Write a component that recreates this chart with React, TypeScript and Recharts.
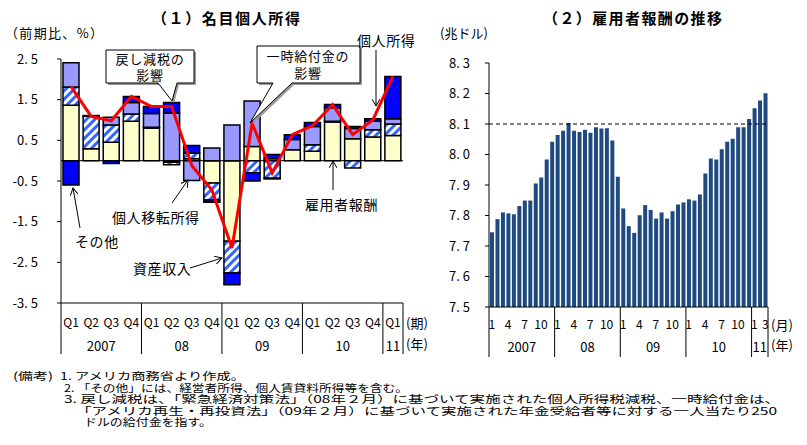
import React from "react";
import { ComposedChart, BarChart, Bar, Line, XAxis, YAxis, ReferenceLine } from "recharts";

const JP = '"Noto Sans CJK JP", "DejaVu Sans", sans-serif';

// (1) 名目個人所得 (前期比、%)
const qLabels = ["Q1", "Q2", "Q3", "Q4", "Q1", "Q2", "Q3", "Q4", "Q1", "Q2", "Q3", "Q4", "Q1", "Q2", "Q3", "Q4", "Q1"];
const qYears = ["2007", "2007", "2007", "2007", "08", "08", "08", "08", "09", "09", "09", "09", "10", "10", "10", "10", "11"];
const compensation = [1.36, 0.29, 0.45, 0.97, 0.8, -0.04, 0.05, -0.55, -1.98, 0.35, 0.05, 0.27, 0.23, 0.95, 0.54, 0.58, 0.62];
const assetIncome = [0.45, 0.8, 0.43, 0.18, 0.02, -0.06, 0.14, -0.42, -0.78, -0.3, -0.43, 0.0, 0.16, 0.02, -0.18, 0.18, 0.28];
const transferIncome = [0.6, 0.02, 0.19, 0.28, 0.34, 1.17, -0.49, 0.31, 0.88, 1.12, -0.02, 0.25, 0.45, 0.33, 0.25, 0.21, 0.13];
const otherIncome = [-0.6, 0.0, -0.07, 0.15, 0.17, 0.26, 0.18, -0.05, -0.29, -0.2, 0.1, 0.12, 0.1, 0.08, 0.05, 0.06, 1.04];
const personalIncome = [1.82, 1.09, 0.98, 1.58, 1.33, 1.33, -0.12, -0.72, -2.15, 0.92, -0.3, 0.64, 0.86, 1.38, 0.64, 1.0, 2.07];
const leftTicks = [-3.5, -2.5, -1.5, -0.5, 0.5, 1.5, 2.5];

// (2) 雇用者報酬の推移 (兆ドル, 月次)
const mYears = ["2007", "08", "09", "10", "11"];
const comp07 = [7.745, 7.788, 7.81, 7.807, 7.804, 7.831, 7.849, 7.849, 7.905, 7.925, 7.984, 8.042];
const comp08 = [8.064, 8.078, 8.103, 8.078, 8.074, 8.081, 8.071, 8.089, 8.085, 8.086, 8.046, 7.927];
const comp09 = [7.823, 7.765, 7.743, 7.801, 7.834, 7.818, 7.79, 7.81, 7.79, 7.814, 7.836, 7.843];
const comp10 = [7.853, 7.849, 7.869, 7.938, 7.987, 7.984, 8.017, 8.042, 8.052, 8.089, 8.089, 8.116];
const comp11 = [8.152, 8.177, 8.201];
const rightTicks = [7.5, 7.6, 7.7, 7.8, 7.9, 8.0, 8.1, 8.2, 8.3];
const shownMonths = [1, 4, 7, 10];

const quarterData = qLabels.map((q, i) => ({
  key: qYears[i] + q,
  comp: compensation[i],
  asset: assetIncome[i],
  transfer: transferIncome[i],
  other: otherIncome[i],
  income: personalIncome[i],
}));

const monthData = [comp07, comp08, comp09, comp10, comp11].flatMap((vals, yi) =>
  vals.map((v, mi) => ({ key: `${mYears[yi]}-${mi + 1}`, year: mYears[yi], month: mi + 1, value: v }))
);

const LEFT_PLOT_W = 342;
const RIGHT_PLOT_W = 279;

const fmt = (v: number) => v.toFixed(1).replace(".", ". ");

function QuarterTick(props: any) {
  const { x, y, index } = props;
  const slot = LEFT_PLOT_W / qLabels.length;
  const year = qYears[index];
  const first = index === 0 || qYears[index - 1] !== year;
  const last = index === qLabels.length - 1;
  const n = qYears.filter((v) => v === year).length;
  return (
    <g fontFamily={JP} fill="#000">
      <text x={x} y={y + 24} textAnchor="middle" fontSize={12}>{qLabels[index]}</text>
      {first && (
        <>
          <line x1={x - slot / 2} x2={x - slot / 2} y1={y} y2={y + 51} stroke="#000" />
          <text x={x - slot / 2 + (n * slot) / 2} y={y + 48} textAnchor="middle" fontSize={13}>{year}</text>
        </>
      )}
      {last && (
        <>
          <line x1={x + slot / 2} x2={x + slot / 2} y1={y} y2={y + 51} stroke="#000" />
          <text x={x + slot / 2 + 3} y={y + 25} fontSize={13}>(期)</text>
          <text x={x + slot / 2 + 3} y={y + 46} fontSize={13}>(年)</text>
        </>
      )}
    </g>
  );
}

function MonthTick(props: any) {
  const { x, y, index } = props;
  const slot = RIGHT_PLOT_W / monthData.length;
  const d = monthData[index];
  const first = d.month === 1;
  const last = index === monthData.length - 1;
  const n = monthData.filter((m) => m.year === d.year).length;
  const show = shownMonths.includes(d.month) || last;
  return (
    <g fontFamily={JP} fill="#000">
      {show && <text x={x} y={y + 22} textAnchor="middle" fontSize={12}>{d.month}</text>}
      {first && (
        <>
          <line x1={x - slot / 2} x2={x - slot / 2} y1={y} y2={y + 50} stroke="#000" />
          <text x={x - slot / 2 + (n * slot) / 2} y={y + 45} textAnchor="middle" fontSize={13}>{d.year}</text>
        </>
      )}
      {last && (
        <>
          <line x1={x + slot / 2} x2={x + slot / 2} y1={y} y2={y + 50} stroke="#000" />
          <text x={x + slot / 2 + 3} y={y + 23} fontSize={13}>(月)</text>
          <text x={x + slot / 2 + 3} y={y + 43} fontSize={13}>(年)</text>
        </>
      )}
    </g>
  );
}

const Arrow = ({ x1, y1, x2, y2 }: any) => (
  <line x1={x1} y1={y1} x2={x2} y2={y2} stroke="#000" strokeWidth={1} markerEnd="url(#arr)" />
);

export default function App() {
  const ann = { fontFamily: JP, fontSize: 14, letterSpacing: 0.6, fill: "#000" } as const;
  const box = { fontFamily: JP, fontSize: 13, letterSpacing: 0.8, fill: "#000" } as const;
  return (
    <div style={{ position: "absolute", left: 0, top: 0, width: 807, height: 445, background: "#fff", fontFamily: JP }}>
      <svg width={0} height={0} style={{ position: "absolute" }}>
        <defs>
          <pattern id="hatch" patternUnits="userSpaceOnUse" width="6" height="6" patternTransform="rotate(45)">
            <rect width="6" height="6" fill="#fff" />
            <rect width="3" height="6" fill="#3366FF" />
          </pattern>
          <marker id="arr" markerWidth="8" markerHeight="8" refX="7" refY="4" orient="auto" markerUnits="userSpaceOnUse">
            <path d="M0,0 L7,4 L0,8" fill="none" stroke="#000" strokeWidth="1" />
          </marker>
        </defs>
      </svg>

      <div style={{ position: "absolute", left: 0, top: 0 }}>
        <ComposedChart
          width={440}
          height={360}
          data={quarterData}
          stackOffset="sign"
          barSize={16}
          margin={{ top: 59, right: 37, bottom: 7, left: 21 }}
        >
          <XAxis
            dataKey="key"
            interval={0}
            tickLine={false}
            tickSize={0}
            tickMargin={0}
            height={50}
            axisLine={{ stroke: "#000" }}
            tick={<QuarterTick />}
          />
          <YAxis
            type="number"
            domain={[-3.5, 2.5]}
            ticks={leftTicks}
            width={40}
            tickSize={4}
            tickMargin={19}
            tickFormatter={fmt}
            axisLine={{ stroke: "#000" }}
            tickLine={{ stroke: "#000" }}
            tick={{ fill: "#000", fontSize: 13, fontFamily: JP }}
          />
          <ReferenceLine y={0} stroke="#000" strokeWidth={1} />
          <Bar dataKey="comp" stackId="a" fill="#FFFFCC" stroke="#000" strokeWidth={1.5} isAnimationActive={false} />
          <Bar dataKey="asset" stackId="a" fill="url(#hatch)" stroke="#000" strokeWidth={1.5} isAnimationActive={false} />
          <Bar dataKey="transfer" stackId="a" fill="#9999FF" stroke="#000" strokeWidth={1.5} isAnimationActive={false} />
          <Bar dataKey="other" stackId="a" fill="#0000FF" stroke="#000" strokeWidth={1.5} isAnimationActive={false} />
          <Line dataKey="income" type="linear" stroke="#FF0000" strokeWidth={3} dot={false} isAnimationActive={false} />
        </ComposedChart>
      </div>

      <div style={{ position: "absolute", left: 420, top: 0 }}>
        <BarChart
          width={380}
          height={360}
          data={monthData}
          barSize={4}
          margin={{ top: 63, right: 32, bottom: 7, left: 29 }}
        >
          <XAxis
            dataKey="key"
            interval={0}
            tickLine={false}
            tickSize={0}
            tickMargin={0}
            height={46}
            axisLine={{ stroke: "#000" }}
            tick={<MonthTick />}
          />
          <YAxis
            type="number"
            domain={[7.5, 8.3]}
            ticks={rightTicks}
            allowDataOverflow
            width={40}
            tickSize={4}
            tickMargin={15}
            tickFormatter={fmt}
            axisLine={{ stroke: "#000" }}
            tickLine={{ stroke: "#000" }}
            tick={{ fill: "#000", fontSize: 13, fontFamily: JP }}
          />
          <ReferenceLine y={8.1} stroke="#000" strokeDasharray="4 3" strokeWidth={1} />
          <Bar dataKey="value" fill="#1F4A80" isAnimationActive={false} />
        </BarChart>
      </div>

      <svg width={807} height={445} style={{ position: "absolute", left: 0, top: 0, pointerEvents: "none" }}>
        <g fontFamily={JP} fill="#000">
          <text x={152} y={24} fontSize={15} fontWeight="bold" textLength={148}>（１）名目個人所得</text>
          <text x={543} y={24} fontSize={15} fontWeight="bold" textLength={179}>（２）雇用者報酬の推移</text>
          <text x={5} y={38} fontSize={13} textLength={98}>（前期比、%）</text>
          <text x={440} y={38} fontSize={13}>(兆ドル)</text>
        </g>

        {/* callout: 戻し減税の影響 */}
        <path d="M108,52 H196 V85 H179 L174,103 L160,85 H108 Z" fill="#999" />
        <path d="M106,50 H194 V83 H177 L172,101 L158,83 H106 Z" fill="#fff" stroke="#000" strokeWidth={1} />
        <text x={150} y={64} textAnchor="middle" {...box}>戻し減税の</text>
        <text x={150} y={79.5} textAnchor="middle" {...box}>影響</text>

        {/* callout: 一時給付金の影響 */}
        <path d="M259,48 H362 V85 H294 L252,125 L275,85 H259 Z" fill="#999" />
        <path d="M257,46 H360 V83 H292 L250,123 L273,83 H257 Z" fill="#fff" stroke="#000" strokeWidth={1} />
        <text x={308} y={61} textAnchor="middle" {...box}>一時給付金の</text>
        <text x={308} y={77.5} textAnchor="middle" {...box}>影響</text>

        <text x={357} y={46} {...ann}>個人所得</text>
        <Arrow x1={376} y1={50} x2={376} y2={106} />

        <text x={305} y={210} {...ann}>雇用者報酬</text>
        <Arrow x1={333} y1={190} x2={333} y2={161} />

        <text x={112} y={223} {...ann}>個人移転所得</text>
        <Arrow x1={172} y1={203} x2={188} y2={180} />

        <text x={75} y={247} {...ann}>その他</text>
        <Arrow x1={80} y1={228} x2={73} y2={188} />

        <text x={133} y={274} {...ann}>資産収入</text>
        <Arrow x1={190} y1={268} x2={222} y2={258} />

        <g fontFamily={JP} fontSize={10.5} fill="#000">
          <text x={13} y={380} textLength={40} lengthAdjust="spacingAndGlyphs">(備考)</text>
          <text x={60} y={380} textLength={185} lengthAdjust="spacingAndGlyphs">1. アメリカ商務省より作成。</text>
          <text x={64} y={391.5} textLength={344} lengthAdjust="spacingAndGlyphs">2. 「その他」には、経営者所得、個人賃貸料所得等を含む。</text>
          <text x={64} y={403} textLength={716} lengthAdjust="spacingAndGlyphs">3. 戻し減税は、「緊急経済対策法」（08年２月）に基づいて実施された個人所得税減税、一時給付金は、</text>
          <text x={76} y={414.5} textLength={701} lengthAdjust="spacingAndGlyphs">「アメリカ再生・再投資法」（09年２月）に基づいて実施された年金受給者等に対する一人当たり250</text>
          <text x={84} y={426} textLength={128} lengthAdjust="spacingAndGlyphs">ドルの給付金を指す。</text>
        </g>
      </svg>
    </div>
  );
}
